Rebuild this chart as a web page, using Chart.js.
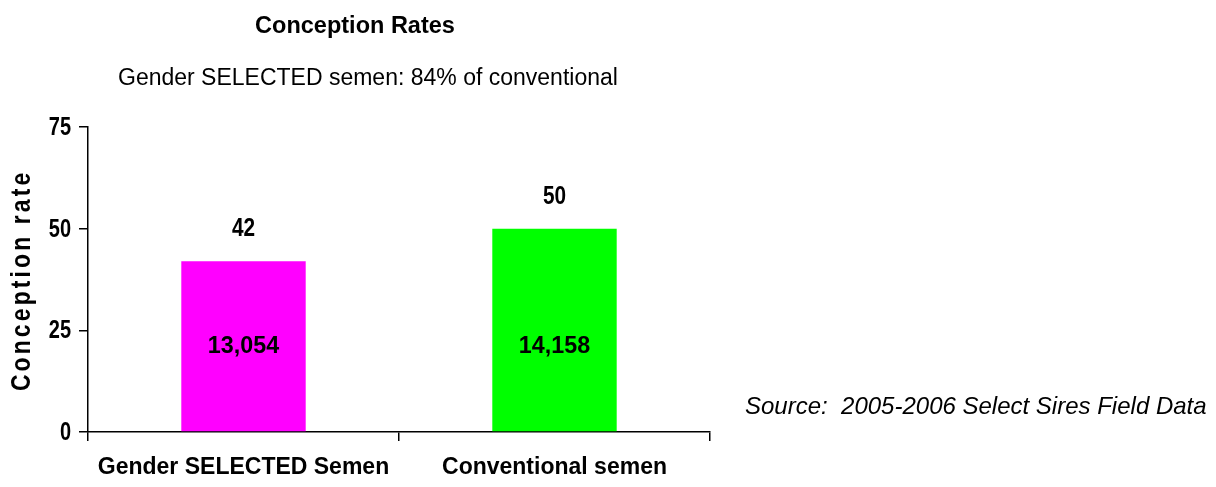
<!DOCTYPE html>
<html>
<head>
<meta charset="utf-8">
<script src="https://cdn.jsdelivr.net/npm/chart.js@4.4.1/dist/chart.umd.min.js"></script>
<style>
  body { margin: 0; background: #fff; }
  canvas { display: block; }
</style>
</head>
<body>
<canvas id="rateChart" width="1216" height="487"></canvas>
<script>
const categories = ['Gender SELECTED Semen', 'Conventional semen'];
const rates = [42, 50];
const services = ['13,054', '14,158'];
const barColors = ['#FF00FF', '#00FF00'];
const yTicks = [0, 25, 50, 75];

const sans = '"Liberation Sans", Arial, sans-serif';

// draws text squeezed sideways, like Arial Narrow
function narrowText(ctx, text, x, y, squeeze) {
  ctx.save();
  ctx.translate(x, y);
  ctx.scale(squeeze, 1);
  ctx.fillText(text, 0, 0);
  ctx.restore();
}

// titles, axis title, y tick labels, source note and bar labels
const textPlugin = {
  id: 'texts',
  afterDatasetsDraw(chart) {
    const ctx = chart.ctx;
    const area = chart.chartArea;
    const yScale = chart.scales.y;
    ctx.save();
    ctx.fillStyle = '#000';
    ctx.textBaseline = 'middle';

    ctx.textAlign = 'center';
    ctx.font = 'bold 23.5px ' + sans;
    ctx.fillText('Conception Rates', area.right / 2, 27);

    ctx.textAlign = 'left';
    ctx.font = '23px ' + sans;
    ctx.fillText('Gender SELECTED semen: 84% of conventional', 118, 79);

    ctx.font = 'italic 24px ' + sans;
    ctx.fillText('Source:  2005-2006 Select Sires Field Data', 745, 407);

    // y tick labels
    ctx.textAlign = 'right';
    ctx.font = 'bold 25px ' + sans;
    yTicks.forEach(v => {
      narrowText(ctx, String(v), area.left - 17, yScale.getPixelForValue(v) + 1, 0.8);
    });

    // bar labels
    const meta = chart.getDatasetMeta(0);
    meta.data.forEach((bar, i) => {
      ctx.textAlign = 'center';
      ctx.font = 'bold 26px ' + sans;
      narrowText(ctx, String(rates[i]), bar.x, bar.y - 32, 0.8);
      ctx.font = 'bold 23.3px ' + sans;
      ctx.fillText(services[i], bar.x, yScale.getPixelForValue(21));
    });

    // y axis title
    ctx.translate(22, 282);
    ctx.rotate(-Math.PI / 2);
    ctx.scale(0.82, 1);
    ctx.textAlign = 'center';
    ctx.font = 'bold 28px ' + sans;
    ctx.letterSpacing = '3.8px';
    ctx.fillText('Conception rate', 2, 0);
    ctx.restore();
  }
};

const rateChart = new Chart(document.getElementById('rateChart').getContext('2d'), {
  type: 'bar',
  data: {
    labels: categories,
    datasets: [{
      data: rates,
      backgroundColor: barColors,
      borderWidth: 0,
      categoryPercentage: 1,
      barPercentage: 0.4
    }]
  },
  options: {
    responsive: false,
    animation: false,
    layout: { padding: { top: 127, right: 506, left: 0, bottom: 0 } },
    plugins: {
      legend: { display: false },
      title: { display: false },
      tooltip: { enabled: false }
    },
    scales: {
      x: {
        afterFit: (s) => { s.height = 55; },
        grid: { display: true, drawOnChartArea: false, offset: true, tickLength: 9, color: '#000', lineWidth: 1.5 },
        border: { display: true, color: '#000', width: 1.5 },
        ticks: { color: '#000', font: { family: sans, size: 23, weight: 'bold' }, padding: 13, maxRotation: 0 }
      },
      y: {
        min: 0,
        max: 75,
        afterFit: (s) => { s.width = 88; },
        afterBuildTicks: (s) => { s.ticks = yTicks.map(v => ({ value: v })); },
        grid: { display: true, drawOnChartArea: false, tickLength: 9, color: '#000', lineWidth: 1.5 },
        border: { display: true, color: '#000', width: 1.5 },
        ticks: { display: false }
      }
    }
  },
  plugins: [textPlugin]
});
</script>
</body>
</html>
